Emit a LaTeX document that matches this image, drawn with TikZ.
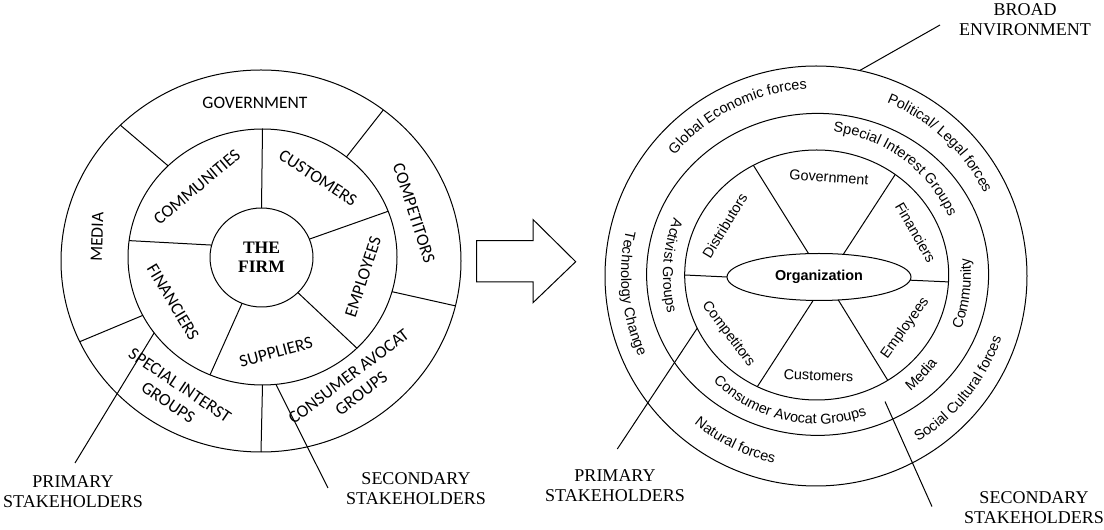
\documentclass[tikz,border=0pt]{standalone}
\usepackage{fontspec}
\setmainfont{Liberation Serif}
\setsansfont{Liberation Sans}
\newfontfamily\capsfont{Carlito}
\usetikzlibrary{shapes.geometric, decorations.text, calc}

\begin{document}
\begin{tikzpicture}[
    x=1pt, y=1pt,
    line width=1pt,
    ring/.style={draw, ellipse, inner sep=0pt, outer sep=0pt},
    caps/.style={font=\capsfont\fontsize{17.5}{21}\selectfont, align=center, inner sep=0pt},
    tag/.style={font=\rmfamily\fontsize{18}{20}\selectfont, align=center, inner sep=0pt},
    force/.style={font=\sffamily\fontsize{14.4}{16}\selectfont, inner sep=0pt},
    arcwords/.style={decorate, decoration={text along path, text align=center,
        text={|\sffamily\fontsize{14.4}{16}\selectfont|#1}}},
    leader/.style={line width=1pt}
]

\useasboundingbox (0,0) rectangle (1104,530);

% left wheel
\node[ring, minimum width=400, minimum height=382] (louter) at (261,269) {};
\node[ring, minimum width=269, minimum height=256] (lmid) at (262.5,273) {};
\node[ring, minimum width=103, minimum height=99,
      font=\rmfamily\bfseries\fontsize{17.5}{19}\selectfont, align=center] (firm) at (261.5,272.5) {THE\\FIRM};

\draw (lmid.90) -- (firm.90);
\draw (lmid.20) -- (firm.21);
\draw (lmid.-44) -- (firm.-44);
\draw (lmid.246) -- (firm.247);
\draw (lmid.173) -- (firm.166);

\draw (louter.136) -- (lmid.136);
\draw (louter.51) -- (lmid.50);
\draw (louter.-13) -- (lmid.-15);
\draw (louter.-90) -- (lmid.-90);
\draw (louter.204) -- (lmid.206);

\node[caps] (gov) at (255,427) {GOVERNMENT};
\node[caps, rotate=-72] (comp) at (414,317) {COMPETITORS};
\node[caps, rotate=88] (media) at (97,293) {MEDIA};
\node[caps, rotate=-34] (sig) at (174,136) {SPECIAL INTERST\\GROUPS};
\node[caps, rotate=37] (cag) at (355,145) {CONSUMER AVOCAT\\GROUPS};
\node[caps, rotate=40] (comm) at (197,343) {COMMUNITIES};
\node[caps, rotate=-33] (cust) at (318,352) {CUSTOMERS};
\node[caps, rotate=72] (empl) at (363,253) {EMPLOYEES};
\node[caps, rotate=15] (supp) at (276,178) {SUPPLIERS};
\node[caps, rotate=-59] (fin) at (173,228) {FINANCIERS};

\node[tag] (lprim) at (73,38) {PRIMARY\\STAKEHOLDERS};
\node[tag] (lsec) at (416,41) {SECONDARY\\STAKEHOLDERS};
\coordinate (lp) at (75,67);
\coordinate (ls) at (328,42);
\draw[leader] (lp) -- (lmid.215);
\draw[leader] (ls) -- (lmid.-84);

% block arrow
\draw (476.7,289.3) -- (533,289.3) -- (533,310.5) -- (575.7,268.3)
      -- (533,227.3) -- (533,248) -- (476.7,248) -- cycle;

% right wheel
\coordinate (rc) at (817,255);
\node[ring, minimum width=422, minimum height=420] (router) at (816,254) {};
\node[ring, minimum width=342, minimum height=322] (rmid) at (817.6,255.6) {};
\node[ring, minimum width=264, minimum height=250] (rinner) at (816.7,255) {};
\node[ring, minimum width=184, minimum height=47,
      font=\sffamily\bfseries\fontsize{14.4}{16}\selectfont] (org) at (819,253) {Organization};

\draw (rinner.120) -- (org.114);
\draw (rinner.52) -- (org.43);
\draw (rinner.180) -- (org.180);
\draw (rinner.-3) -- (org.-2);
\draw (rinner.242) -- (org.256);
\draw (rinner.304) -- (org.310);

\node[force, rotate=-4] (govt) at (829,352.7) {Government};
\node[force, rotate=59] (dist) at (724.8,304.4) {Distributors};
\node[force, rotate=-60] (finc) at (915.6,297.7) {Financiers};
\node[force, rotate=-53] (compt) at (728.3,195.7) {Competitors};
\node[force, rotate=-2] (custm) at (818.5,154.5) {Customers};
\node[force, rotate=54] (emp) at (905.2,201.8) {Employees};

% middle band
\path[arcwords={Special Interest Groups}] ($(rc)+(103.6:144)$) arc[start angle=103.6, end angle=3.6, radius=144];
\path[arcwords={Consumer Avocat Groups}] ($(rc)+(207.7:149)$) arc[start angle=207.7, end angle=307.7, radius=149];
\path[arcwords={Activist Groups}] ($(rc)+(141.3:154)$) arc[start angle=141.3, end angle=211.3, radius=154];
\path[arcwords={Community}] ($(rc)+(-37.3:154)$) arc[start angle=-37.3, end angle=22.7, radius=154];
\path[arcwords={Media}] ($(rc)+(-63.6:149)$) arc[start angle=-63.6, end angle=-23.6, radius=149];

% outer band
\path[arcwords={Global Economic forces}] ($(rc)+(161.5:186)$) arc[start angle=161.5, end angle=71.5, radius=186];
\path[arcwords={Political/ Legal forces}] ($(rc)+(87:186)$) arc[start angle=87, end angle=7, radius=186];
\path[arcwords={Technology Change}] ($(rc)+(145.7:196)$) arc[start angle=145.7, end angle=225.7, radius=196];
\path[arcwords={Natural forces}] ($(rc)+(213.8:193)$) arc[start angle=213.8, end angle=273.8, radius=193];
\path[arcwords={Social Cultural forces}] ($(rc)+(-78.8:195)$) arc[start angle=-78.8, end angle=1.2, radius=195];

\node[tag] (rbroad) at (1025,510) {BROAD\\ENVIRONMENT};
\node[tag] (rprim) at (615,44) {PRIMARY\\STAKEHOLDERS};
\node[tag] (rsec) at (1034,22.6) {SECONDARY\\STAKEHOLDERS};
\coordinate (rb) at (940,505);
\coordinate (rp) at (617.3,81);
\coordinate (rs) at (932,23.4);
\coordinate (rse) at (885,128.5);
\draw[leader] (rb) -- (router.78);
\draw[leader] (rp) -- (rinner.204);
\draw[leader] (rs) -- (rse);

\end{tikzpicture}
\end{document}
